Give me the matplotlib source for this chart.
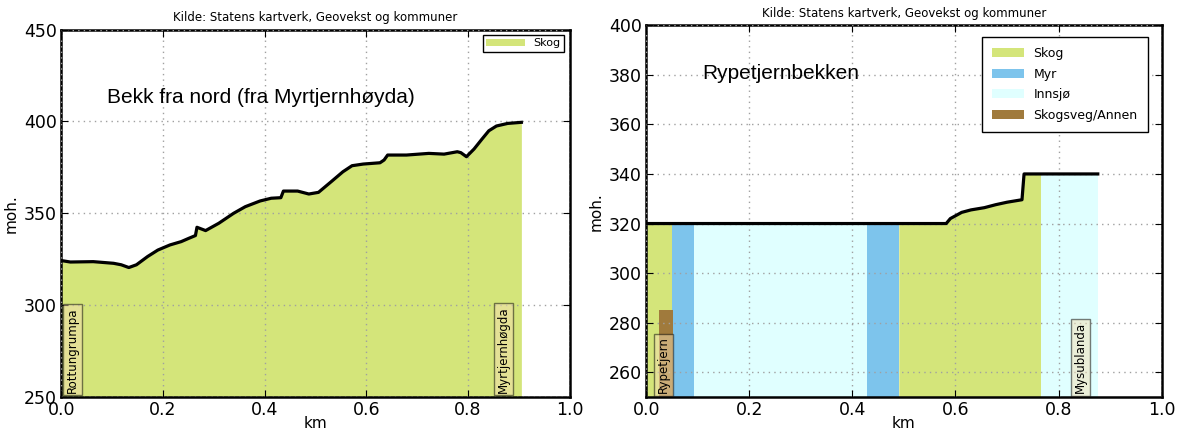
import matplotlib.pyplot as plt
import numpy as np

plt.rcParams['font.family'] = 'DejaVu Sans'

# colours per land-cover type
cover_colors = {'Skog': '#d4e57a', 'Myr': '#7dc4ec', 'Innsjø': '#e0ffff',
                'Skogsveg/Annen': '#a07a3c'}

# left profile: Bekk fra nord
left_km = [0.0, 0.018, 0.063, 0.103, 0.118, 0.133, 0.148, 0.17, 0.19, 0.214,
           0.236, 0.251, 0.264, 0.267, 0.284, 0.31, 0.339, 0.362, 0.391, 0.413,
           0.432, 0.437, 0.465, 0.487, 0.506, 0.531, 0.554, 0.572, 0.594, 0.627,
           0.635, 0.642, 0.679, 0.723, 0.753, 0.779, 0.786, 0.797, 0.812, 0.827,
           0.841, 0.856, 0.878, 0.905]
left_moh = [324.3, 323.5, 323.7, 322.8, 322.0, 320.5, 322.0, 326.5, 330.0, 332.8,
            334.6, 336.4, 337.9, 342.4, 340.6, 344.6, 350.0, 353.6, 356.7, 358.2,
            358.5, 362.1, 362.1, 360.5, 361.4, 367.2, 372.6, 375.9, 376.8, 377.5,
            379.0, 381.7, 381.7, 382.6, 382.2, 383.5, 383.0, 380.8, 385.0, 390.2,
            394.9, 397.5, 398.9, 399.5]

# right profile: Rypetjernbekken
right_km = [0.0, 0.051, 0.092, 0.428, 0.49, 0.582, 0.59, 0.612, 0.63, 0.656,
            0.678, 0.70, 0.729, 0.733, 0.765, 0.876]
right_moh = [320, 320, 320, 320, 320, 320, 322, 324.5, 325.5, 326.4,
             327.6, 328.6, 329.6, 340, 340, 340]
seg_start = [0.0, 0.051, 0.092, 0.428, 0.49, 0.765]
seg_end = [0.051, 0.092, 0.428, 0.49, 0.765, 0.876]
seg_type = ['Skog', 'Myr', 'Innsjø', 'Myr', 'Skog', 'Innsjø']
road_start, road_end, road_top = 0.025, 0.052, 285

source = 'Kilde: Statens kartverk, Geovekst og kommuner'

fig = plt.figure(figsize=(11.77, 4.34), dpi=100)
ax1 = fig.add_axes([0.052, 0.085, 0.432, 0.847])
ax2 = fig.add_axes([0.549, 0.085, 0.438, 0.857])

label_box = dict(boxstyle='square,pad=0.25', facecolor='wheat', alpha=0.5,
                 edgecolor='black')


def style(ax, ylo, yhi, yticks):
    ax.set_xlim(0, 1.0)
    ax.set_ylim(ylo, yhi)
    ax.set_yticks(yticks)
    ax.set_xticks(np.arange(0, 1.01, 0.2))
    ax.grid(True, linestyle=(0, (1, 3)), color='#a0a0a0', linewidth=1)
    ax.set_axisbelow(False)
    for s in ax.spines.values():
        s.set_linewidth(1.8)
    ax.tick_params(direction='in', top=True, right=True, labelsize=12.5,
                   length=5, pad=3)
    ax.set_xlabel('km', fontsize=11, labelpad=-2)
    ax.set_ylabel('moh.', fontsize=11, labelpad=4)
    ax.set_title(source, fontsize=8.5, pad=6)


# left panel
style(ax1, 250, 450, [250, 300, 350, 400, 450])
ax1.fill_between(left_km, 250, left_moh, color=cover_colors['Skog'],
                 linewidth=0, label='Skog', zorder=1)
ax1.plot(left_km, left_moh, color='black', linewidth=2.3, zorder=3)
ax1.text(0.09, 413, 'Bekk fra nord (fra Myrtjernhøyda)', fontsize=15,
         family='Liberation Sans', va='center')
ax1.text(0.022, 252.5, 'Rottungrumpa', rotation=90, ha='center', va='bottom',
         fontsize=8.5, bbox=label_box, zorder=4)
ax1.text(0.870, 252.5, 'Myrtjernhøgda', rotation=90, ha='center', va='bottom',
         fontsize=8.5, bbox=label_box, zorder=4)
ax1.legend(loc='upper right', fontsize=8, handlelength=3.5, fancybox=False,
           edgecolor='black', framealpha=1, borderpad=0.3)

# right panel
style(ax2, 250, 400, [260, 280, 300, 320, 340, 360, 380, 400])
rk = np.array(right_km)
rm = np.array(right_moh)
used = set()
for a, b, t in zip(seg_start, seg_end, seg_type):
    m = (rk >= a - 1e-9) & (rk <= b + 1e-9)
    ax2.fill_between(rk[m], 250, rm[m], color=cover_colors[t], linewidth=0,
                     zorder=1, label=None if t in used else t)
    used.add(t)
ax2.bar([(road_start + road_end) / 2], [road_top - 250], bottom=250,
        width=road_end - road_start, color=cover_colors['Skogsveg/Annen'],
        zorder=2, label='Skogsveg/Annen')
ax2.plot(right_km, right_moh, color='black', linewidth=2.3, zorder=3)
ax2.text(0.109, 380.5, 'Rypetjernbekken', fontsize=15,
         family='Liberation Sans', va='center')
ax2.text(0.034, 251.5, 'Rypetjern', rotation=90, ha='center', va='bottom',
         fontsize=8.5, bbox=label_box, zorder=4)
ax2.text(0.842, 251.5, 'Mysublanda', rotation=90, ha='center', va='bottom',
         fontsize=8.5, bbox=label_box, zorder=4)
ax2.legend(loc='upper right', fontsize=9, handlelength=2.5, fancybox=False,
           edgecolor='black', framealpha=1, borderpad=0.8, labelspacing=0.6,
           bbox_to_anchor=(0.985, 0.985))

plt.savefig('out.png', dpi=100)
